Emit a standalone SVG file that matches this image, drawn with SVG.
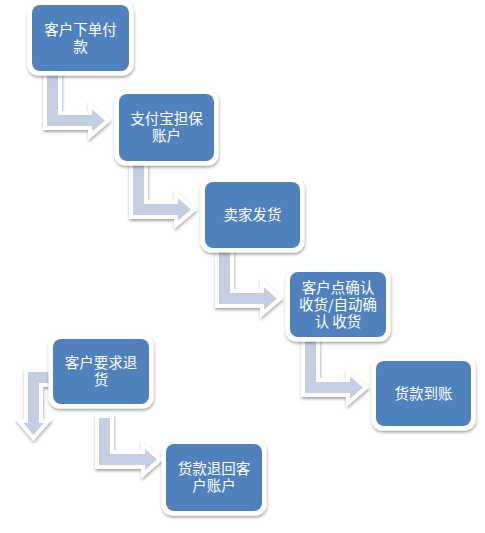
<svg xmlns="http://www.w3.org/2000/svg" width="485" height="533" viewBox="0 0 485 533">
<defs>
<filter id="sh" x="-20%" y="-20%" width="150%" height="150%">
<feDropShadow dx="0.5" dy="2" stdDeviation="1.8" flood-color="#000" flood-opacity="0.35"/>
</filter>
</defs>
<style>
.frame{fill:#fff;filter:url(#sh)}
.box{fill:#4F81BD}
.arr{fill:#C3CEE2;stroke:#fff;stroke-width:4;stroke-linejoin:miter;filter:url(#sh)}
text{font-family:"Noto Sans CJK SC","Noto Sans",sans-serif;font-size:14.5px;fill:#fff;text-anchor:middle}
</style>
<rect width="485" height="533" fill="#fff"/>
<g id="connectors">
<path class="arr" d="M45,72 H60 V113 H90 V105 L108,120.5 L90,136 V128 H45 Z"/>
<path class="arr" transform="translate(86,89)" d="M45,72 H60 V113 H90 V105 L108,120.5 L90,136 V128 H45 Z"/>
<path class="arr" transform="translate(172,178)" d="M45,72 H60 V113 H90 V105 L108,120.5 L90,136 V128 H45 Z"/>
<path class="arr" transform="translate(258,267)" d="M45,72 H60 V113 H90 V105 L108,120.5 L90,136 V128 H45 Z"/>
<path class="arr" d="M97,416 H112 V452 H143 V444.5 L160,459.5 L143,474.5 V467 H97 Z"/>
<path class="arr" d="M62,370 H26 V421 H19 L33.5,438 L48,421 H41 V385 H62 Z"/>
</g>
<g id="n1">
<rect class="frame" x="27.5" y="0.5" width="106" height="75" rx="11"/>
<rect class="box" x="32" y="5" width="97" height="66" rx="8"/>
<text x="80.5" y="35">客户下单付<tspan x="80.5" dy="17">款</tspan></text>
</g>
<g id="n2">
<rect class="frame" x="114.5" y="89.5" width="104" height="76" rx="11"/>
<rect class="box" x="119" y="94" width="95" height="67" rx="8"/>
<text x="166.5" y="124">支付宝担保<tspan x="166.5" dy="17">账户</tspan></text>
</g>
<g id="n3">
<rect class="frame" x="200.5" y="177.5" width="104" height="75" rx="11"/>
<rect class="box" x="205" y="182" width="95" height="66" rx="8"/>
<text x="252.5" y="220">卖家发货</text>
</g>
<g id="n4">
<rect class="frame" x="285.5" y="267.5" width="105" height="74" rx="11"/>
<rect class="box" x="290" y="272" width="96" height="65" rx="8"/>
<text x="338" y="293">客户点确认<tspan x="338" dy="17">收货/自动确</tspan><tspan x="338" dy="17">认 收货</tspan></text>
</g>
<g id="n5">
<rect class="frame" x="371.5" y="356.5" width="104" height="74" rx="11"/>
<rect class="box" x="376" y="361" width="95" height="65" rx="8"/>
<text x="423.5" y="398.5">货款到账</text>
</g>
<g id="n6">
<rect class="frame" x="48.5" y="334.5" width="105" height="74" rx="11"/>
<rect class="box" x="53" y="339" width="96" height="65" rx="8"/>
<text x="101" y="368">客户要求退<tspan x="101" dy="17">货</tspan></text>
</g>
<g id="n7">
<rect class="frame" x="161.5" y="439.5" width="105" height="76" rx="11"/>
<rect class="box" x="166" y="444" width="96" height="67" rx="8"/>
<text x="214" y="474">货款退回客<tspan x="214" dy="17">户账户</tspan></text>
</g>
</svg>
